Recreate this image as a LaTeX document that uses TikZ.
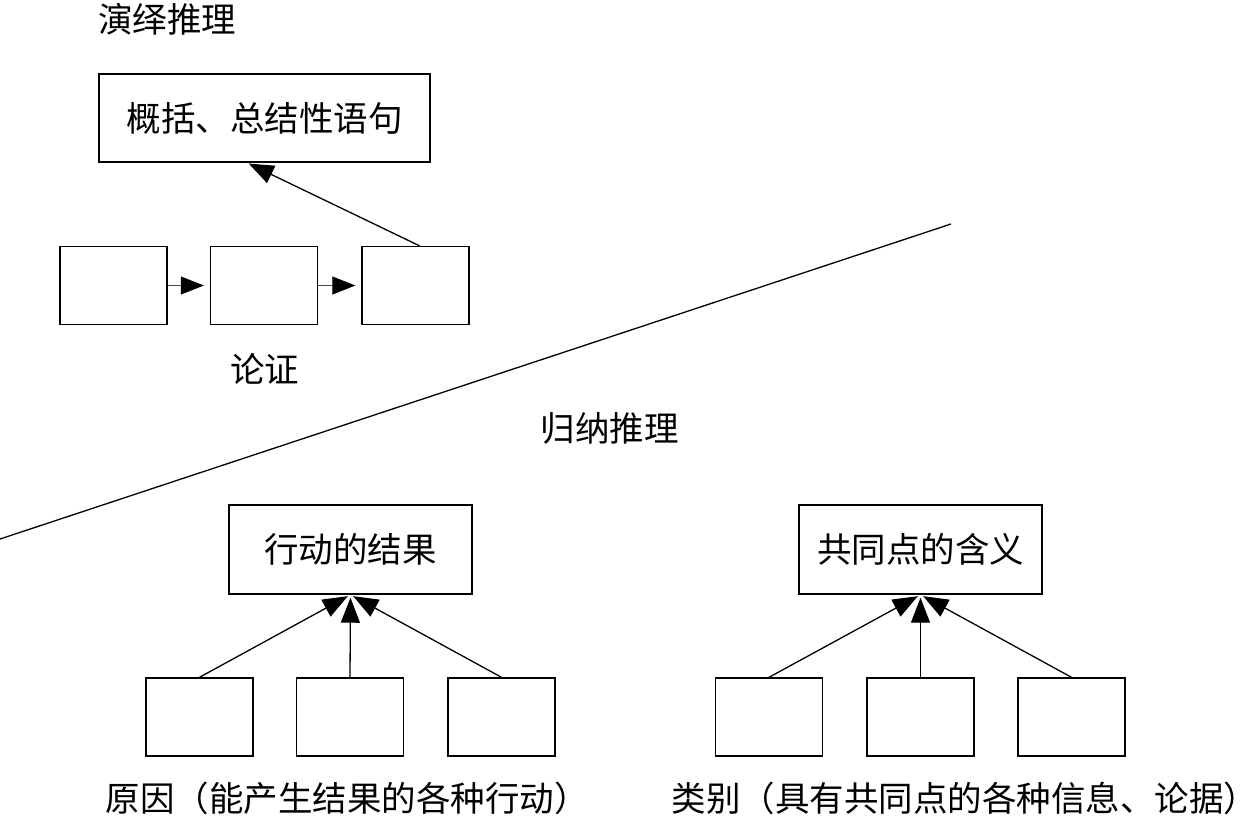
\documentclass[tikz,border=0pt]{standalone}
\usepackage{fontspec}
\newfontfamily\cjk{Noto Sans CJK SC}
\usetikzlibrary{arrows.meta,calc}
\begin{document}
\begin{tikzpicture}[x=1pt,y=-1pt,
  every node/.style={font=\cjk\fontsize{34.5}{40}\selectfont, inner sep=0pt},
  boxbase/.style={draw=black, line width=1.4pt, fill=white},
  bigA/.style={boxbase, minimum width=331pt, minimum height=88pt},
  bigB/.style={boxbase, minimum width=243pt, minimum height=89pt},
  small/.style={boxbase, minimum width=107pt, minimum height=78pt},
  conn/.style={line width=1.3pt, -{Triangle[length=25pt,width=19pt]}},
  hconn/.style={line width=1pt, draw=black!70, -{Triangle[length=23pt,width=18pt,color=black]}},
  plain/.style={line width=1.3pt}
]
\useasboundingbox (0,0) rectangle (1257,823);

% divider line
\coordinate (s1) at (0,539);
\coordinate (s2) at (951,224);
\draw[plain] (s1) -- (s2);

% deductive part
\node (t1) at (167,19) {演绎推理};
\node[bigA] (gen) at (264.5,118) {概括、总结性语句};
\node[small] (a1) at (113.5,285.5) {};
\node[small] (a2) at (264,285.5) {};
\node[small] (a3) at (415.5,285.5) {};
\node (lz) at (264.5,369) {论证};
\coordinate (gtip) at ($(gen.south west)!0.447!(gen.south east)$);
\draw[hconn, shorten >=6pt] (a1) -- (a2);
\draw[hconn, shorten >=6pt] (a2) -- (a3);
\draw[conn, shorten >=2pt] ($(a3.north)+(4,0)$) -- (gtip);

% inductive part
\node (t2) at (609.5,428) {归纳推理};

\node[bigB] (r) at (350.5,549.5) {行动的结果};
\node[small] (r1) at (199.5,717) {};
\node[small] (r2) at (350,717) {};
\node[small] (r3) at (501.5,717) {};
\draw[conn, shorten >=3pt] (r1.north) -- (r.south);
\draw[conn, shorten >=3pt] (r2.north) -- (r.south);
\draw[conn, shorten >=3pt] (r3.north) -- (r.south);
\node (cap1) at (347,798) {原因（能产生结果的各种行动）};

\node[bigB] (c) at (920.5,549.5) {共同点的含义};
\node[small] (c1) at (769,717) {};
\node[small] (c2) at (920.5,717) {};
\node[small] (c3) at (1071.5,717) {};
\draw[conn, shorten >=3pt] (c1.north) -- (c.south);
\draw[conn, shorten >=3pt] (c2.north) -- (c.south);
\draw[conn, shorten >=3pt] (c3.north) -- (c.south);
\node (cap2) at (965,798) {类别（具有共同点的各种信息、论据）};
\end{tikzpicture}
\end{document}
